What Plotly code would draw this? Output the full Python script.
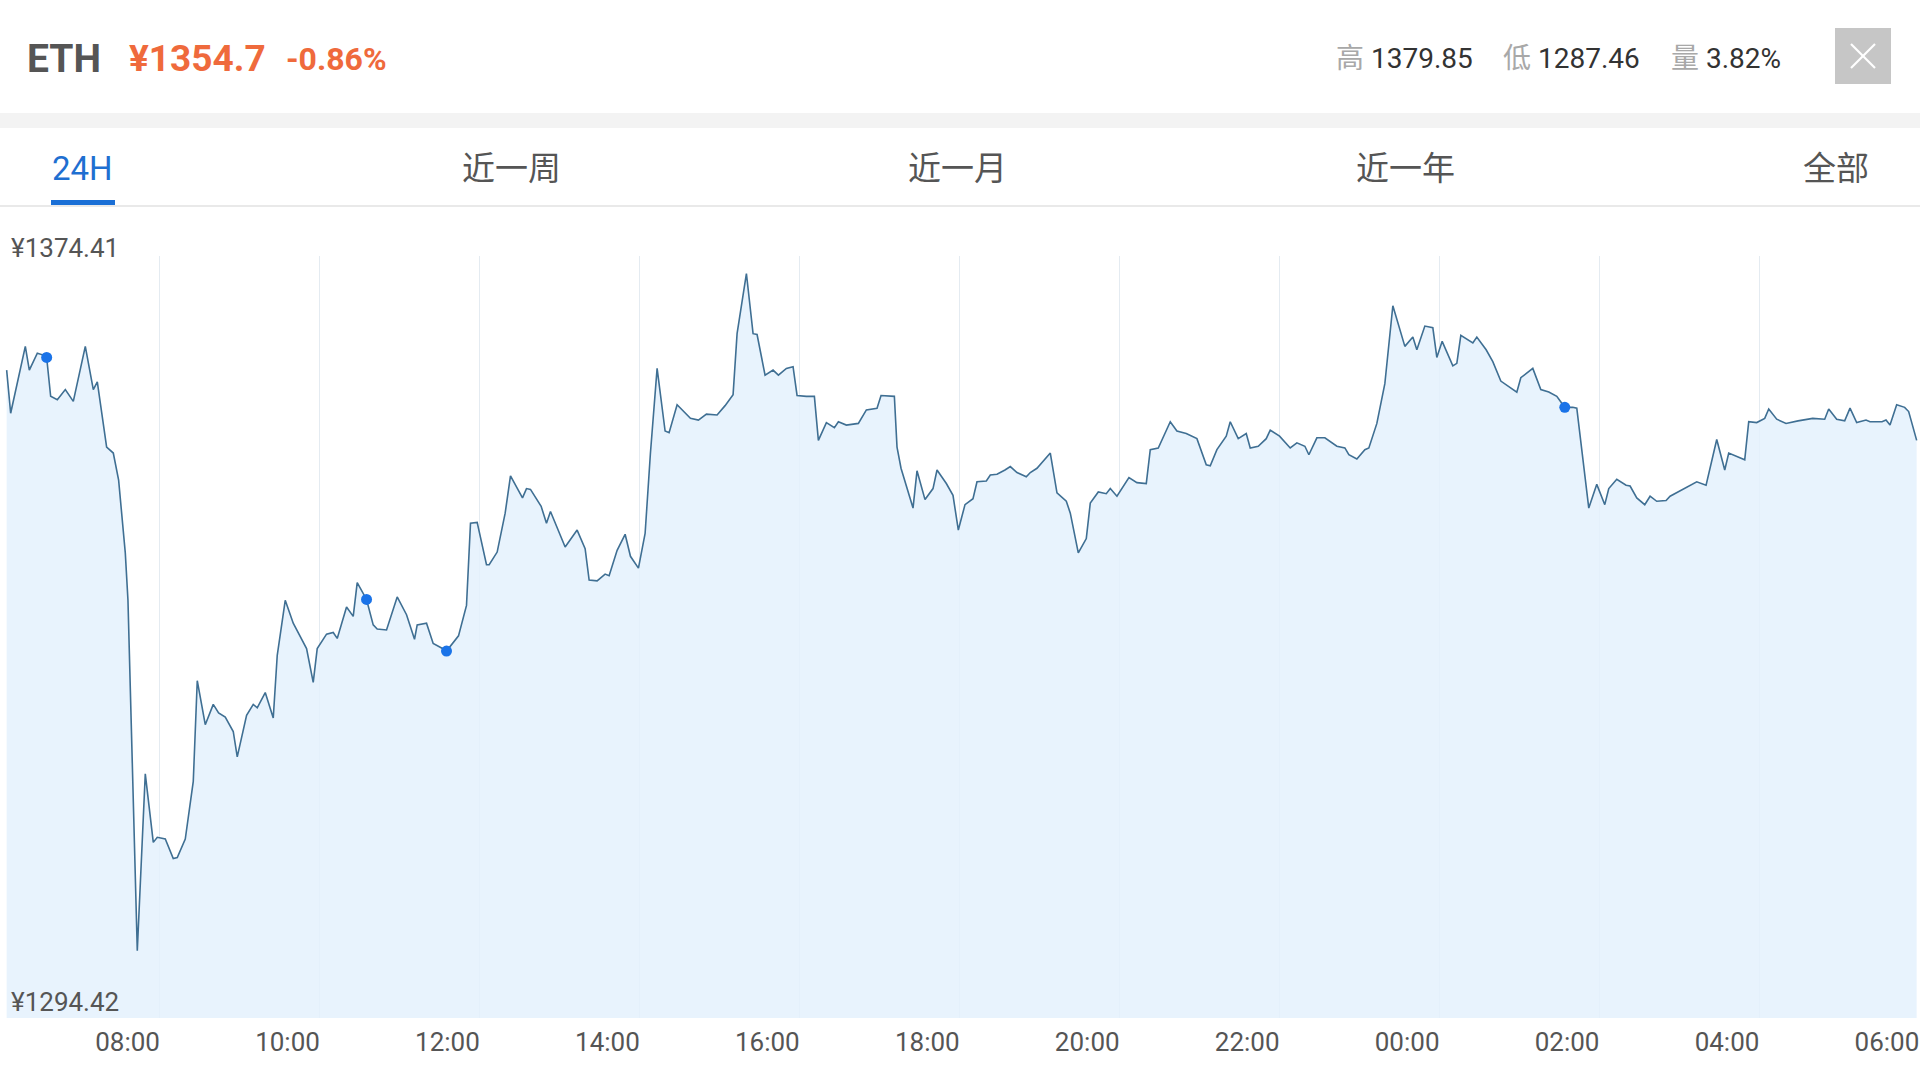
import plotly.graph_objects as go
from datetime import datetime, timedelta

# ---------------- data ----------------
times = [
    "06:05", "06:08", "06:19", "06:22", "06:28", "06:32", "06:35", "06:38", "06:43", "06:49",
    "06:55", "07:04", "07:10", "07:13", "07:20", "07:25", "07:29", "07:34", "07:36", "07:43",
    "07:49", "07:55", "07:58", "08:04", "08:10", "08:13", "08:19", "08:25", "08:28", "08:34",
    "08:40", "08:44", "08:49", "08:55", "08:58", "09:05", "09:10", "09:13", "09:19", "09:25",
    "09:28", "09:34", "09:40", "09:50", "09:55", "09:58", "10:05", "10:10", "10:13", "10:20",
    "10:25", "10:28", "10:35", "10:40", "10:43", "10:50", "10:58", "11:05", "11:11", "11:13",
    "11:20", "11:25", "11:32", "11:35", "11:44", "11:50", "11:53", "11:58", "12:05", "12:07",
    "12:13", "12:19", "12:23", "12:32", "12:35", "12:38", "12:46", "12:50", "12:53", "13:04",
    "13:13", "13:19", "13:22", "13:28", "13:34", "13:37", "13:43", "13:49", "13:53", "13:59",
    "14:04", "14:08", "14:13", "14:19", "14:22", "14:28", "14:38", "14:44", "14:50", "14:58",
    "15:04", "15:10", "15:13", "15:20", "15:25", "15:28", "15:34", "15:40", "15:44", "15:50",
    "15:55", "15:58", "16:05", "16:11", "16:14", "16:20", "16:26", "16:29", "16:35", "16:44",
    "16:50", "16:53", "16:58", "17:01", "17:11", "17:13", "17:16", "17:25", "17:28", "17:34",
    "17:40", "17:43", "17:50", "17:55", "17:59", "18:04", "18:07", "18:10", "18:13", "18:20",
    "18:23", "18:28", "18:34", "18:38", "18:43", "18:50", "18:53", "18:58", "19:08", "19:13",
    "19:20", "19:23", "19:29", "19:35", "19:38", "19:44", "19:50", "19:53", "19:58", "20:07",
    "20:13", "20:20", "20:23", "20:29", "20:38", "20:43", "20:50", "20:58", "21:05", "21:08",
    "21:13", "21:20", "21:23", "21:29", "21:35", "21:38", "21:44", "21:50", "21:53", "22:00",
    "22:08", "22:13", "22:19", "22:22", "22:28", "22:34", "22:43", "22:49", "22:52", "22:58",
    "23:04", "23:07", "23:13", "23:19", "23:25", "23:34", "23:40", "23:43", "23:49", "23:55",
    "23:58", "00:02", "00:10", "00:13", "00:16", "00:25", "00:28", "00:35", "00:40", "00:46",
    "00:58", "01:01", "01:10", "01:16", "01:22", "01:28", "01:34", "01:40", "01:43", "01:52",
    "01:58", "02:04", "02:07", "02:13", "02:20", "02:23", "02:28", "02:34", "02:38", "02:43",
    "02:50", "02:53", "03:13", "03:20", "03:28", "03:34", "03:37", "03:49", "03:52", "03:58",
    "04:04", "04:07", "04:13", "04:20", "04:29", "04:40", "04:49", "04:52", "04:58", "05:04",
    "05:08", "05:13", "05:20", "05:23", "05:32", "05:35", "05:38", "05:43", "05:49", "05:52",
    "05:58",
]
prices = [
    1363.0, 1357.9, 1365.8, 1363.0, 1365.0, 1364.8, 1364.5, 1359.9, 1359.5, 1360.7,
    1359.3, 1365.8, 1360.7, 1361.6, 1353.9, 1353.2, 1350.0, 1341.4, 1335.8, 1294.4,
    1315.3, 1307.2, 1307.8, 1307.6, 1305.3, 1305.4, 1307.6, 1314.4, 1326.3, 1321.1,
    1323.5, 1322.5, 1322.0, 1320.3, 1317.3, 1322.2, 1323.5, 1323.1, 1324.9, 1321.9,
    1329.3, 1335.8, 1333.1, 1330.1, 1326.1, 1330.1, 1331.8, 1332.0, 1331.3, 1335.0,
    1333.9, 1337.9, 1335.9, 1332.9, 1332.4, 1332.3, 1336.2, 1334.1, 1331.2, 1332.9,
    1333.1, 1330.7, 1330.1, 1329.8, 1331.6, 1335.2, 1344.9, 1345.0, 1340.0, 1340.0,
    1341.5, 1346.1, 1350.5, 1347.9, 1349.0, 1348.9, 1346.9, 1344.9, 1346.3, 1342.1,
    1344.1, 1341.9, 1338.2, 1338.1, 1338.9, 1338.7, 1341.7, 1343.6, 1341.0, 1339.6,
    1343.7, 1353.2, 1363.2, 1355.8, 1355.6, 1358.9, 1357.3, 1357.1, 1357.8, 1357.7,
    1358.8, 1360.1, 1367.3, 1374.41, 1367.3, 1367.2, 1362.4, 1363.0, 1362.4, 1363.2,
    1363.4, 1360.0, 1359.9, 1359.9, 1354.7, 1356.8, 1356.2, 1356.9, 1356.5, 1356.7,
    1358.3, 1358.4, 1358.5, 1360.0, 1359.9, 1353.9, 1351.4, 1346.7, 1351.1, 1347.7,
    1349.0, 1351.2, 1349.6, 1348.2, 1344.1, 1347.1, 1347.5, 1347.8, 1349.8, 1349.9,
    1350.6, 1350.7, 1351.2, 1351.6, 1350.9, 1350.4, 1350.9, 1351.4, 1353.2, 1348.5,
    1347.5, 1346.1, 1341.4, 1343.1, 1347.3, 1348.6, 1348.4, 1349.0, 1348.1, 1350.3,
    1349.7, 1349.6, 1353.6, 1353.8, 1356.9, 1355.8, 1355.5, 1354.9, 1351.8, 1351.7,
    1353.6, 1355.2, 1356.9, 1354.9, 1355.5, 1353.8, 1354.0, 1354.9, 1355.9, 1355.2,
    1353.8, 1354.4, 1354.0, 1353.0, 1355.0, 1355.0, 1354.0, 1353.8, 1353.0, 1352.5,
    1353.6, 1353.8, 1356.7, 1361.4, 1370.6, 1365.8, 1366.9, 1365.4, 1368.2, 1368.0,
    1364.5, 1366.4, 1363.5, 1363.8, 1367.1, 1366.2, 1366.9, 1365.4, 1364.0, 1361.7,
    1360.4, 1362.1, 1363.2, 1360.7, 1360.4, 1359.9, 1358.6, 1358.6, 1358.5, 1346.7,
    1349.5, 1347.1, 1349.0, 1350.1, 1349.4, 1349.3, 1347.9, 1347.1, 1348.1, 1347.5,
    1347.6, 1348.1, 1349.8, 1349.4, 1354.8, 1351.2, 1353.2, 1352.4, 1356.9, 1356.8,
    1357.3, 1358.4, 1357.2, 1356.7, 1357.0, 1357.3, 1357.2, 1358.4, 1357.2, 1357.0,
    1358.5, 1356.8, 1357.1, 1356.9, 1356.9, 1357.1, 1356.5, 1358.9, 1358.6, 1358.1,
    1354.7,
]
marker_times = ["06:35", "10:35", "11:35", "01:34"]
marker_prices = [1364.5, 1335.9, 1329.8, 1358.6]

tick_labels = ["08:00", "10:00", "12:00", "14:00", "16:00", "18:00",
               "20:00", "22:00", "00:00", "02:00", "04:00", "06:00"]

tabs = ["24H", "近一周", "近一月", "近一年", "全部"]
symbol = "ETH"
price_text = "¥1354.7"
change_text = "-0.86%"
stats = [("高", "1379.85"), ("低", "1287.46"), ("量", "3.82%")]
y_top_label = "¥1374.41"
y_bottom_label = "¥1294.42"

# --------------- helpers ---------------
BASE = datetime(2020, 1, 1)


def to_dt(hhmm):
    h, m = map(int, hhmm.split(":"))
    d = BASE + timedelta(hours=h, minutes=m)
    if h < 6:
        d += timedelta(days=1)
    return d


def tick_dt(hhmm):
    h, m = map(int, hhmm.split(":"))
    d = BASE + timedelta(hours=h, minutes=m)
    if h <= 6:
        d += timedelta(days=1)
    return d


W, H = 1920, 1080
PLOT_TOP, PLOT_BOT = 256, 1018


def px(x):
    return x / W


def py(y):
    return (PLOT_BOT - y) / (PLOT_BOT - PLOT_TOP)


FONT = "Roboto, 'Noto Sans CJK SC', sans-serif"

xs = [to_dt(t) for t in times]
mxs = [to_dt(t) for t in marker_times]

fig = go.Figure()
fig.add_trace(go.Scatter(
    x=xs, y=prices, mode="lines",
    line=dict(color="#3f6f93", width=1.6),
    fill="tozeroy", fillcolor="rgba(228,241,253,0.85)",
    hoverinfo="skip", showlegend=False,
))
fig.add_trace(go.Scatter(
    x=mxs, y=marker_prices, mode="markers",
    marker=dict(color="#1a73e8", size=11, line=dict(width=0)),
    hoverinfo="skip", showlegend=False,
))

annotations = []
# y labels
annotations.append(dict(xref="paper", yref="paper", x=px(9), y=py(248), xanchor="left",
                        yanchor="middle", text=y_top_label, showarrow=False,
                        font=dict(family=FONT, size=26, color="#555555")))
annotations.append(dict(xref="paper", yref="paper", x=px(9), y=py(1002), xanchor="left",
                        yanchor="middle", text=y_bottom_label, showarrow=False,
                        font=dict(family=FONT, size=26, color="#555555")))
# header
annotations.append(dict(xref="paper", yref="paper", x=px(25), y=py(59), xanchor="left",
                        yanchor="middle", showarrow=False,
                        text=f"<b>{symbol}</b>",
                        font=dict(family=FONT, size=39, color="#555555")))
annotations.append(dict(xref="paper", yref="paper", x=px(127), y=py(59), xanchor="left",
                        yanchor="middle", showarrow=False,
                        text=f"<b>{price_text}</b>",
                        font=dict(family=FONT, size=37, color="#ef6a3c")))
annotations.append(dict(xref="paper", yref="paper", x=px(284), y=py(59), xanchor="left",
                        yanchor="middle", showarrow=False,
                        text=f"<b>{change_text}</b>",
                        font=dict(family=FONT, size=32, color="#ef6a3c")))
stat_x = [1334, 1501, 1669]
for (lab, val), sx in zip(stats, stat_x):
    annotations.append(dict(
        xref="paper", yref="paper", x=px(sx), y=py(58), xanchor="left", yanchor="middle",
        showarrow=False,
        text=f"<span style='color:#a8a8a8'>{lab}</span> {val}",
        font=dict(family=FONT, size=28, color="#333333")))
# tabs
tab_x = [82, 511, 957, 1405, 1836]
for i, (t, tx) in enumerate(zip(tabs, tab_x)):
    annotations.append(dict(
        xref="paper", yref="paper", x=px(tx), y=py(168), xanchor="center", yanchor="middle",
        showarrow=False, text=t,
        font=dict(family=FONT, size=33, color="#1f6fd1" if i == 0 else "#555555")))

shapes = [
    # separator band
    dict(type="rect", xref="paper", yref="paper", x0=0, x1=1, y0=py(128), y1=py(113),
         fillcolor="#f3f3f3", line=dict(width=0), layer="below"),
    # line under tabs
    dict(type="line", xref="paper", yref="paper", x0=0, x1=1, y0=py(206), y1=py(206),
         line=dict(color="#e2e2e2", width=1.5)),
    # active tab underline
    dict(type="rect", xref="paper", yref="paper", x0=px(51), x1=px(115), y0=py(205), y1=py(200),
         fillcolor="#1a6fd6", line=dict(width=0)),
    # close button
    dict(type="rect", xref="paper", yref="paper", x0=px(1835), x1=px(1891), y0=py(84), y1=py(28),
         fillcolor="#c6c6c6", line=dict(width=0), layer="below"),
    # close X
    dict(type="line", xref="paper", yref="paper", x0=px(1851), x1=px(1875), y0=py(44), y1=py(68),
         line=dict(color="#ffffff", width=2.2)),
    dict(type="line", xref="paper", yref="paper", x0=px(1851), x1=px(1875), y0=py(68), y1=py(44),
         line=dict(color="#ffffff", width=2.2)),
]

fig.update_layout(
    width=W, height=H,
    margin=dict(l=0, r=0, t=PLOT_TOP, b=H - PLOT_BOT, pad=0),
    paper_bgcolor="#ffffff", plot_bgcolor="#ffffff",
    font=dict(family=FONT, color="#555555"),
    showlegend=False,
    annotations=annotations,
    shapes=shapes,
    xaxis=dict(
        range=[BASE + timedelta(hours=6), BASE + timedelta(hours=30, seconds=30)],
        tickmode="array",
        tickvals=[tick_dt(t) for t in tick_labels],
        ticktext=tick_labels,
        ticklabelposition="outside left",
        ticks="", ticklabelstandoff=6,
        tickfont=dict(family=FONT, size=26, color="#555555"),
        showgrid=True, gridcolor="#e4ebf1", gridwidth=1,
        zeroline=False, showline=False, fixedrange=True,
        layer="above traces",
    ),
    yaxis=dict(
        range=[1286.45, 1376.48],
        showticklabels=False, showgrid=False, zeroline=False, showline=False,
        ticks="", fixedrange=True,
    ),
)

fig.write_html(
    "out.html",
    config={"displayModeBar": False, "staticPlot": True},
    post_script="document.body.style.margin='0';document.body.style.padding='0';"
                "document.documentElement.style.overflow='hidden';",
)
